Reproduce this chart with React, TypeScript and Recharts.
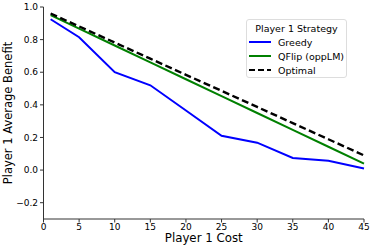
import { LineChart, Line, XAxis, YAxis, Legend } from 'recharts';

const costs = [1, 5, 10, 15, 20, 25, 30, 35, 40, 45];
const greedy = [0.925, 0.815, 0.6, 0.52, 0.365, 0.21, 0.168, 0.074, 0.057, 0.01];
const qflip = [0.95, 0.867, 0.764, 0.66, 0.557, 0.454, 0.35, 0.247, 0.143, 0.04];
const optimal = [0.96, 0.881, 0.782, 0.683, 0.584, 0.486, 0.387, 0.288, 0.189, 0.09];

const xTicks = [0, 5, 10, 15, 20, 25, 30, 35, 40, 45];
const yTicks = [-0.2, 0, 0.2, 0.4, 0.6, 0.8, 1.0];

const seriesNames = ['Greedy', 'QFlip (oppLM)', 'Optimal'];

const data = costs.map((c, i) => ({
  cost: c,
  greedy: greedy[i],
  qflip: qflip[i],
  optimal: optimal[i],
}));

const font = 'DejaVu Sans, sans-serif';
const axisColor = '#333';

function fmtY(v: number) {
  const s = Math.abs(v).toFixed(1);
  return v < 0 ? '\u2212' + s : s;
}

function LegendBox() {
  const items = [
    { name: seriesNames[0], color: '#0000ff', dash: undefined },
    { name: seriesNames[1], color: '#008000', dash: undefined },
    { name: seriesNames[2], color: '#000000', dash: '6 3' },
  ];
  return (
    <div
      style={{
        position: 'absolute',
        left: 246,
        top: 19,
        width: 101,
        height: 59,
        border: '1px solid #ddd',
        borderRadius: 3,
        background: 'rgba(255,255,255,0.8)',
        fontFamily: font,
        fontSize: 9.5,
        color: '#000',
        boxSizing: 'border-box',
      }}
    >
      <div style={{ textAlign: 'center', marginTop: 2, lineHeight: '13px' }}>Player 1 Strategy</div>
      {items.map((it) => (
        <div key={it.name} style={{ display: 'flex', alignItems: 'center', height: 14 }}>
          <svg width={30} height={10} style={{ marginLeft: 1 }}>
            <line x1={1} y1={5} x2={23} y2={5} stroke={it.color} strokeWidth={2} strokeDasharray={it.dash} />
          </svg>
          <span>{it.name}</span>
        </div>
      ))}
    </div>
  );
}

function XLabel(props: any) {
  const vb = props.viewBox || { x: 43.5, y: 219.5, width: 320.5, height: 30 };
  const cx = vb.x + vb.width / 2;
  return (
    <text x={cx} y={238} textAnchor="middle" dominantBaseline="central" fill="#000" fontSize={11.8} fontFamily={font}>
      Player 1 Cost
    </text>
  );
}

function YLabel(props: any) {
  const vb = props.viewBox || { x: 0, y: 7, width: 43.5, height: 212.5 };
  const cy = vb.y + vb.height / 2;
  return (
    <text
      x={8}
      y={cy}
      transform={`rotate(-90, 8, ${cy})`}
      textAnchor="middle"
      dominantBaseline="central"
      fill="#000"
      fontSize={11.5}
      fontFamily={font}
    >
      Player 1 Average Benefit
    </text>
  );
}

export default function App() {
  return (
    <div style={{ position: 'absolute', left: 0, top: 0, width: 374, height: 249, background: '#fff' }}>
      <LineChart width={374} height={249} data={data} margin={{ top: 7, right: 10, left: 0, bottom: 0 }}>
        <XAxis
          dataKey="cost"
          type="number"
          domain={[0, 45]}
          ticks={xTicks}
          height={30}
          tickSize={3.5}
          tickMargin={1}
          stroke={axisColor}
          tick={{ fill: '#000', fontSize: 9, fontFamily: font }}
          label={<XLabel />}
        />
        <YAxis
          type="number"
          domain={[-0.3, 1.0]}
          ticks={yTicks}
          width={43.5}
          tickSize={3.5}
          tickMargin={2}
          tickFormatter={fmtY}
          stroke={axisColor}
          tick={{ fill: '#000', fontSize: 9, fontFamily: font }}
          label={<YLabel />}
        />
        <Legend content={() => <LegendBox />} wrapperStyle={{ top: 0, left: 0 }} />
        <Line type="linear" dataKey="greedy" name={seriesNames[0]} stroke="#0000ff" strokeWidth={2} dot={false} isAnimationActive={false} />
        <Line type="linear" dataKey="qflip" name={seriesNames[1]} stroke="#008000" strokeWidth={2} dot={false} isAnimationActive={false} />
        <Line type="linear" dataKey="optimal" name={seriesNames[2]} stroke="#000000" strokeWidth={2.4} strokeDasharray="7 3.5" dot={false} isAnimationActive={false} />
      </LineChart>
    </div>
  );
}
